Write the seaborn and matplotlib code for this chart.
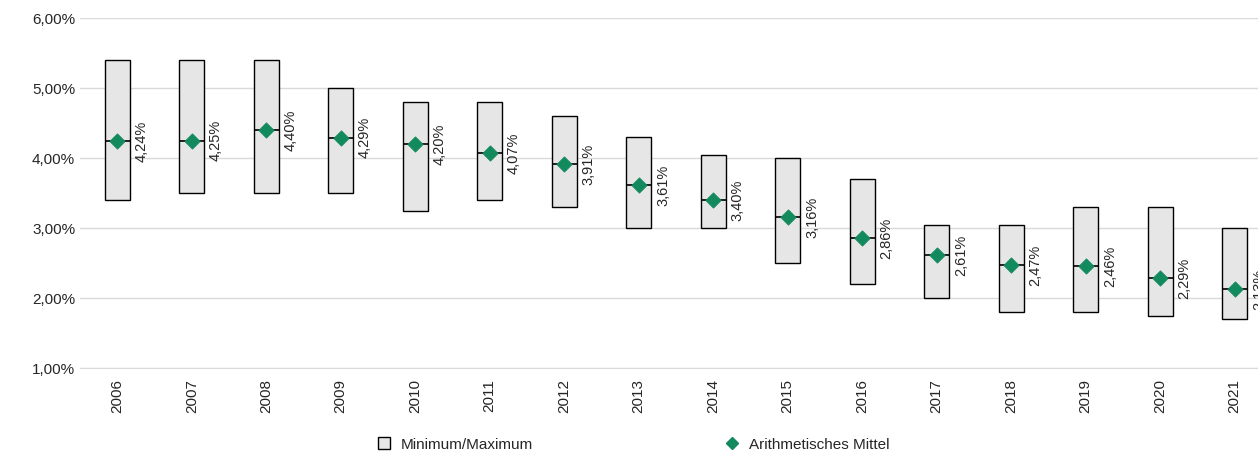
import matplotlib
matplotlib.use("Agg")
import matplotlib.pyplot as plt
from matplotlib.lines import Line2D
from matplotlib.ticker import FixedLocator
import seaborn as sns
import pandas as pd
import numpy as np

years = [str(y) for y in range(2006, 2022)]
min_vals = [3.40, 3.50, 3.50, 3.50, 3.25, 3.40, 3.30, 3.00, 3.00, 2.50, 2.20, 2.00, 1.80, 1.80, 1.75, 1.70]
max_vals = [5.40, 5.40, 5.40, 5.00, 4.80, 4.80, 4.60, 4.30, 4.05, 4.00, 3.70, 3.05, 3.05, 3.30, 3.30, 3.00]
mean_vals = [4.24, 4.25, 4.40, 4.29, 4.20, 4.07, 3.91, 3.61, 3.40, 3.16, 2.86, 2.61, 2.47, 2.46, 2.29, 2.13]

df = pd.DataFrame({"year": years, "min": min_vals, "max": max_vals, "mean": mean_vals})

sns.set_style("white")
plt.rcParams["font.family"] = ["Liberation Sans", "DejaVu Sans"]

fig = plt.figure(figsize=(12.58, 4.54), dpi=100)
ax = fig.add_axes([0.0636, 0.189, 0.9475, 0.771])

x = np.arange(len(years))
green = "#138a5e"
w = 0.33

ax.bar(x, df["max"] - df["min"], bottom=df["min"], width=w,
       color="#e6e6e6", edgecolor="black", linewidth=1, zorder=2)
ax.hlines(df["mean"], x - w / 2, x + w / 2, color="black", linewidth=1.2, zorder=3)
sns.scatterplot(x=x, y=df["mean"], marker="D", s=60, color=green,
                edgecolor=green, ax=ax, zorder=4, legend=False)

for xi, m in zip(x, mean_vals):
    ax.annotate(f"{m:.2f}%".replace(".", ","), (xi, m), xytext=(12.5, 0),
                textcoords="offset points", rotation=90, ha="left", va="center",
                fontsize=10.5, clip_on=False)

ax.set_xlim(-0.5, len(years) - 0.5)
ax.set_ylim(1, 6)
ax.set_yticks(np.arange(1, 6.01, 1))
ax.set_yticklabels([f"{v:.2f}%".replace(".", ",") for v in np.arange(1, 6.01, 1)], fontsize=11)
ax.yaxis.grid(True, color="#d9d9d9", linewidth=1)
ax.set_axisbelow(True)
ax.set_xticks(x)
ax.set_xticklabels(years, rotation=90, fontsize=11)
ax.tick_params(axis="x", which="major", length=0, pad=8)
ax.xaxis.set_minor_locator(FixedLocator(np.arange(-0.5, len(years), 1)))
ax.tick_params(axis="x", which="minor", length=6, color="#d9d9d9")
ax.tick_params(axis="y", length=0)
for s in ["top", "right", "left"]:
    ax.spines[s].set_visible(False)
ax.spines["bottom"].set_color("#d9d9d9")
ax.set_xlabel("")
ax.set_ylabel("")

handles = [
    Line2D([], [], marker="s", linestyle="none", markersize=8,
           markerfacecolor="#e6e6e6", markeredgecolor="black", label="Minimum/Maximum"),
    Line2D([], [], marker="D", linestyle="none", markersize=6,
           markerfacecolor=green, markeredgecolor=green, label="Arithmetisches Mittel"),
]
fig.legend(handles=handles, loc="lower center", bbox_to_anchor=(0.5, -0.025), ncol=2,
           frameon=False, fontsize=11, handletextpad=0.1, columnspacing=12)

fig.savefig("out.png", dpi=100)
